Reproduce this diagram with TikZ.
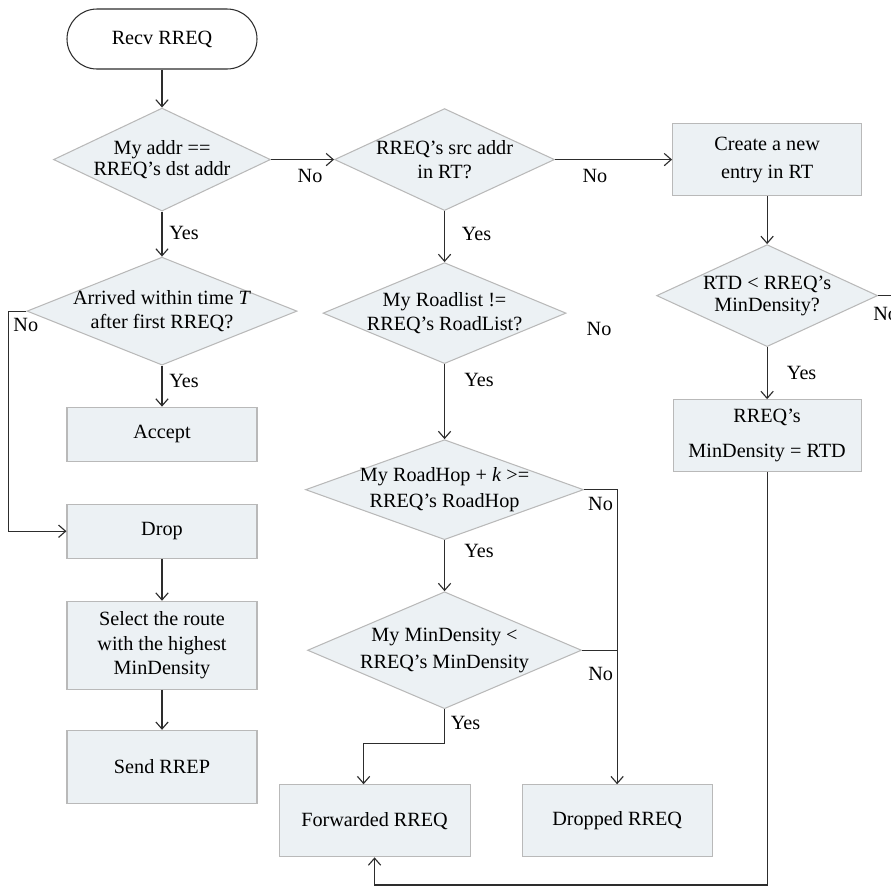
\documentclass[tikz,border=0pt]{standalone}
\usepackage{fontspec}
\setmainfont{Liberation Serif}
\usepackage{tikz}
\usetikzlibrary{arrows.meta,positioning,shapes.geometric}
\definecolor{boxfill}{RGB}{236,241,244}
\definecolor{boxline}{RGB}{185,185,185}
\definecolor{wire}{RGB}{45,45,45}

\begin{document}
\begin{tikzpicture}[
    node distance=0.84cm and 1.26cm,
    box/.style={draw=boxline, line width=0.6pt, fill=boxfill, minimum width=3.8cm,
                minimum height=1.08cm, font=\fontsize{11.5}{14}\selectfont, align=center, inner sep=2pt},
    cond/.style={diamond, draw=boxline, line width=0.6pt, fill=boxfill, inner sep=-5pt,
                shape aspect=2.4, font=\fontsize{11.5}{13.5}\selectfont, align=center},
    term/.style={draw=wire, line width=0.6pt, rounded corners=0.6cm, minimum width=3.8cm,
                minimum height=1.2cm, font=\fontsize{11.5}{13}\selectfont},
    lab/.style={font=\fontsize{11.5}{13}\selectfont, inner sep=1pt},
    arr/.style={-{Straight Barb[length=4pt,width=7pt]}, draw=wire, line width=0.65pt},
    wireline/.style={draw=wire, line width=0.65pt}
]
    \useasboundingbox (0,0) rectangle (17.82,-17.74);

    \node[term] (recv) at (3.24,-0.78) {Recv RREQ};
    \node[cond, minimum width=4.34cm, minimum height=2.06cm, below=0.76cm of recv] (addr)
        {My addr ==\\[-2pt]RREQ's dst addr};
    \node[cond, minimum width=5.4cm, minimum height=2.16cm, below=0.9cm of addr] (arrive)
        {Arrived within time \textit{T}\\after first RREQ?};
    \node[box, below=0.82cm of arrive] (accept) {Accept};
    \node[box, below=of accept] (drop) {Drop};
    \node[box, minimum height=1.76cm, below=of drop] (select)
        {Select the route\\with the highest\\MinDensity};
    \node[box, minimum height=1.46cm, below=0.8cm of select] (rrep) {Send RREP};

    \node[cond, minimum width=4.4cm, minimum height=2.04cm, right=1.26cm of addr] (src)
        {RREQ's src addr\\in RT?};
    \node[box, minimum width=3.78cm, minimum height=1.44cm, right=2.34cm of src] (newent)
        {Create a new\\[2pt]entry in RT};
    \node[cond, minimum width=4.86cm, minimum height=2.02cm, below=1.02cm of src] (roads)
        {My Roadlist !=\\RREQ's RoadList?};
    \node[cond, minimum width=5.56cm, minimum height=2.0cm, below=1.5cm of roads] (hops)
        {My RoadHop + \textit{k} >=\\[1pt]RREQ's RoadHop};
    \node[cond, minimum width=5.48cm, minimum height=2.34cm, below=1.02cm of hops] (dens)
        {My MinDensity <\\[2pt]RREQ's MinDensity};
    \node[box, minimum width=3.82cm, minimum height=1.44cm, below=1.5cm of dens, xshift=-1.4cm] (fwd)
        {Forwarded RREQ};
    \node[box, minimum height=1.44cm, right=1.02cm of fwd] (dropped) {Dropped RREQ};

    \node[cond, minimum width=4.42cm, minimum height=2.04cm, below=0.96cm of newent] (rtd)
        {RTD < RREQ's\\[-1pt]MinDensity?};
    \node[box, minimum width=3.76cm, minimum height=1.44cm, below=1.04cm of rtd] (setmin)
        {RREQ's\\[6pt]MinDensity = RTD};

    \node[lab, anchor=west] (roadsno) at ([xshift=0.36cm, yshift=-0.32cm]roads.east) {No};
    \coordinate (rtdout) at ([xshift=0.5cm]rtd.east);
    \coordinate (base) at (0,-17.70);

    \draw[arr] (recv) -- (addr);
    \draw[arr] (addr) -- node[lab, right=0.1cm, pos=0.47] {Yes} (arrive);
    \draw[arr] (arrive) -- node[lab, right=0.1cm, pos=0.37] {Yes} (accept);
    \draw[arr] (arrive.west) -- ++(-0.36,0) node[lab, anchor=north west, xshift=1.5pt, yshift=-3pt] {No}
        |- (drop.west);
    \draw[arr] (drop) -- (select);
    \draw[arr] (select) -- (rrep);

    \draw[arr] (addr.east) -- node[lab, below=4pt, pos=0.62] {No} (src.west);
    \draw[arr] (src.east) -- node[lab, below=4pt, pos=0.34] {No} (newent.west);
    \draw[arr] (src) -- node[lab, right=0.3cm, pos=0.45] {Yes} (roads);
    \draw[arr] (roads) -- node[lab, right=0.35cm, pos=0.21] {Yes} (hops);
    \draw[arr] (hops) -- node[lab, right=0.35cm, pos=0.22] {Yes} (dens);
    \draw[arr] (hops.east) node[lab, anchor=north west, xshift=1pt, yshift=-3pt] {No} -| (dropped.north);
    \draw[wireline] (dens.east) -- (dens.east -| dropped.north)
        node[lab, anchor=north east, xshift=-1pt, yshift=-0.3cm] {No};
    \draw[arr] (dens.south) -- node[lab, right=0.08cm, pos=0.4] {Yes} ++(0,-0.68)
        -| ([xshift=-0.22cm]fwd.north);

    \draw[arr] (newent) -- (rtd);
    \draw[arr] (rtd) -- node[lab, right=0.35cm, pos=0.5] {Yes} (setmin);
    \draw[wireline] (rtd.east) -- (rtdout);
    \node[lab, anchor=north west] at ([xshift=-0.14cm, yshift=-0.2cm]rtd.east) {No};
    \draw[arr] (setmin.south) -- (setmin.south |- base) -| (fwd.south);
\end{tikzpicture}
\end{document}
